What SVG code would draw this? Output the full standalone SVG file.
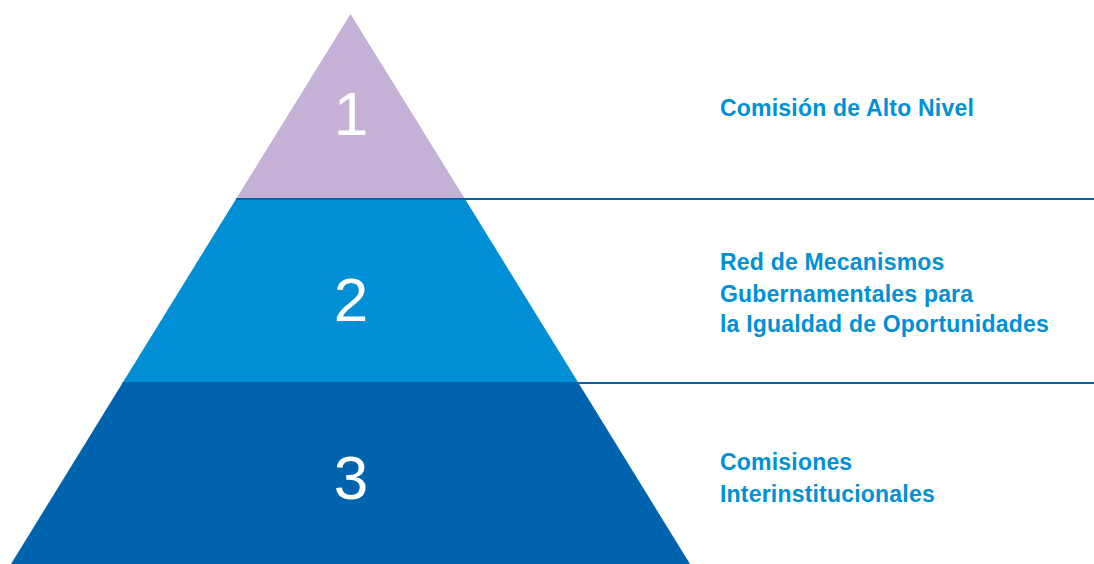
<svg xmlns="http://www.w3.org/2000/svg" width="1094" height="564" viewBox="0 0 1094 564">
<style>
.num{font-family:"Liberation Sans",Arial,sans-serif;font-size:62px;fill:#ffffff;text-anchor:middle}
.lbl{font-family:"Liberation Sans",Arial,sans-serif;font-weight:bold;font-size:23px;fill:#0090d6;letter-spacing:0.2px}
.sep{stroke:#0063ae;stroke-width:2;fill:none}
</style>
<rect width="1094" height="564" fill="#ffffff"/>
<g id="tier1">
<polygon points="350.5,14 465,199 236,199" fill="#c5b0d6"/>
<text class="num" x="351" y="134.5">1</text>
</g>
<g id="tier2">
<polygon points="236,199 465,199 578.5,383 122.5,383" fill="#008fd5"/>
<text class="num" x="351" y="320.5">2</text>
</g>
<g id="tier3">
<polygon points="122.5,383 578.5,383 690,564 11,564" fill="#0063ae"/>
<text class="num" x="351" y="498.5">3</text>
</g>
<g id="connectors">
<line class="sep" x1="236" y1="199" x2="1094" y2="199"/>
<line class="sep" x1="122.5" y1="383" x2="1094" y2="383"/>
</g>
<g id="label1">
<text class="lbl" x="720" y="116">Comisión de Alto Nivel</text>
</g>
<g id="label2">
<text class="lbl" x="720" y="269.5">Red de Mecanismos</text>
<text class="lbl" x="720" y="301.5">Gubernamentales para</text>
<text class="lbl" x="720" y="332">la Igualdad de Oportunidades</text>
</g>
<g id="label3">
<text class="lbl" x="720" y="469.5">Comisiones</text>
<text class="lbl" x="720" y="502">Interinstitucionales</text>
</g>
</svg>
